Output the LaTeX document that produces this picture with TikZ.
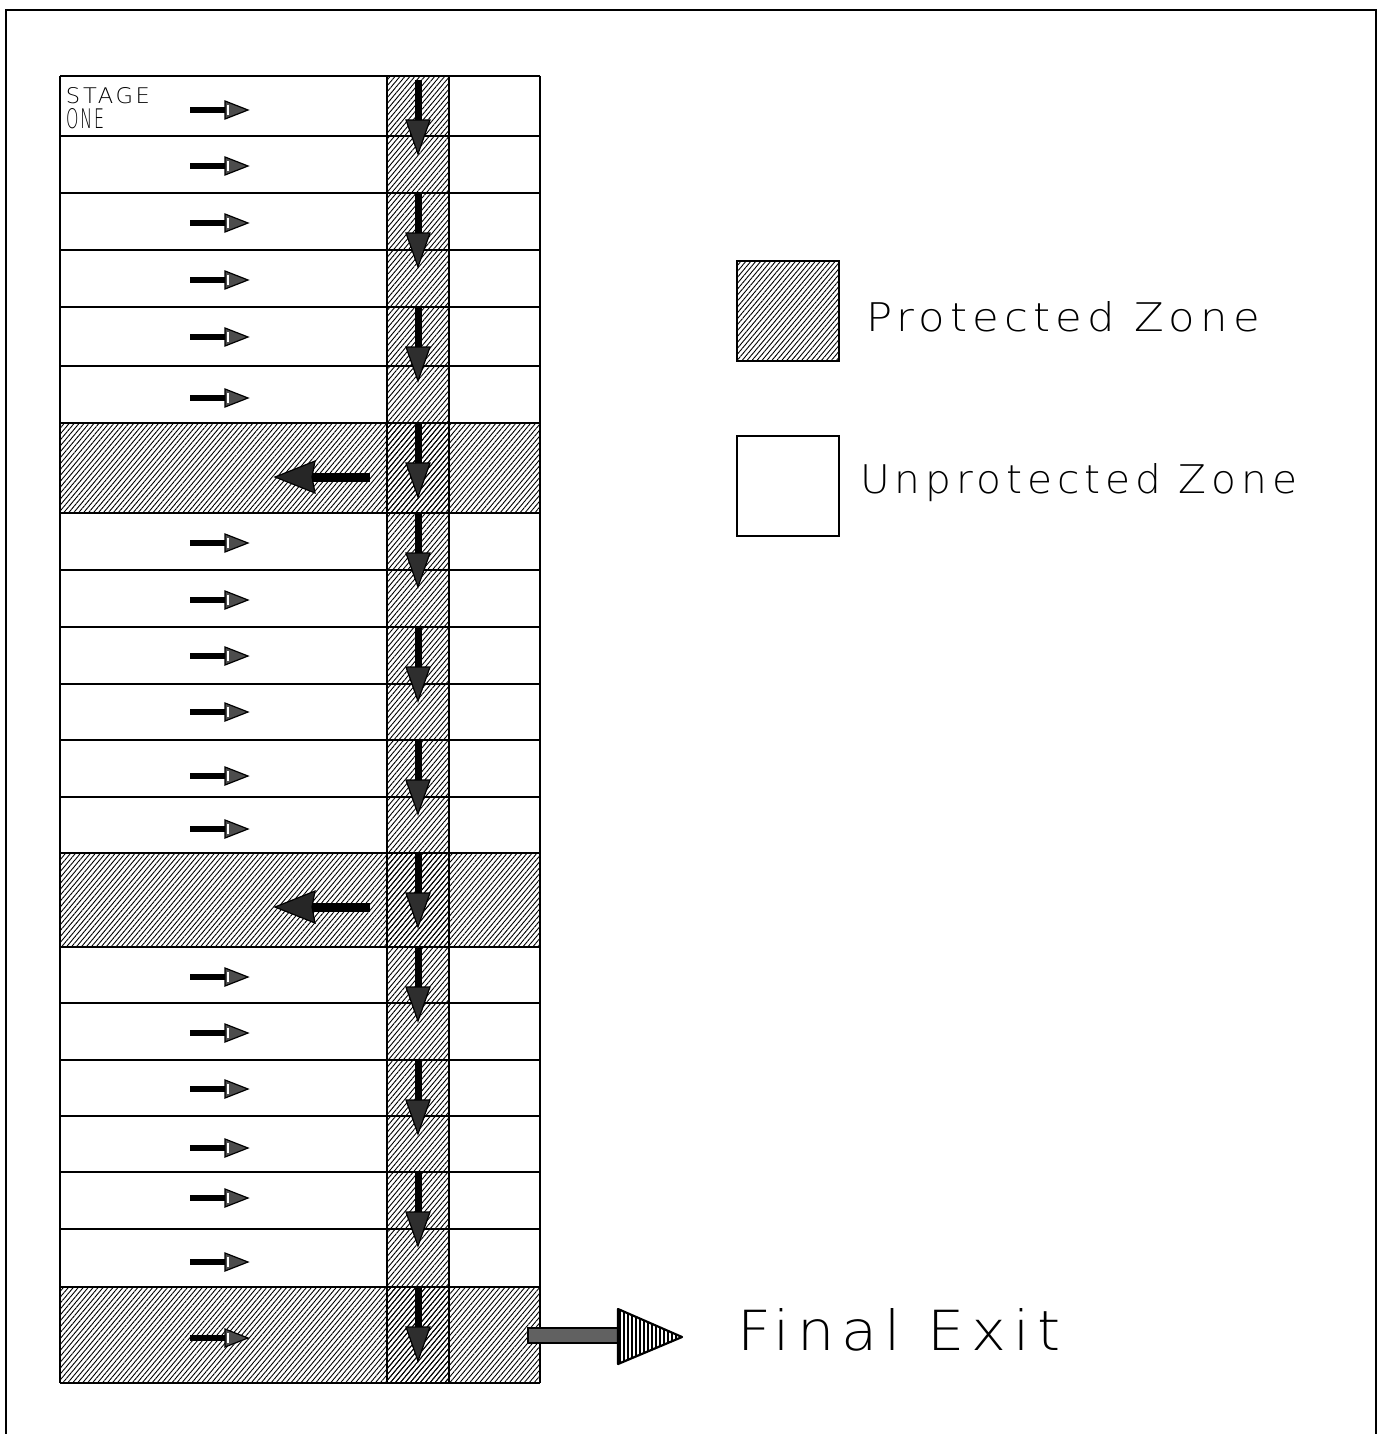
\documentclass[tikz,border=0pt]{standalone}
\usepackage{fontspec}
\usetikzlibrary{patterns.meta}
\newfontfamily\cadfont[LetterSpace=12]{DejaVu Sans ExtraLight}

\tikzset{
  x=0.5pt, y=-0.5pt,
  grid/.style={line width=0.55pt, draw=black},
  hatch/.style={pattern={Lines[angle=50,distance=1.9pt,line width=0.45pt]}},
  txt/.style={anchor=base west, inner sep=0pt, outer sep=0pt},
  pics/rarrow/.style={code={
    \fill (0,-3) rectangle (36,3);
    \filldraw[fill=black!70, draw=black, line width=0.6pt] (35,-9) -- (58,0) -- (35,9) -- cycle;
    \draw[white, line width=0.6pt] (38,-5) -- (38,5);
  }},
  pics/darrow/.style={code={
    \fill (-3.5,0) rectangle (3.5,42);
    \filldraw[fill=black!82, draw=black, line width=0.6pt] (-12,40) -- (0,74) -- (12,40) -- cycle;
  }},
  pics/larrow/.style={code={
    \fill (36,-4.5) rectangle (95,4.5);
    \filldraw[fill=black!85, draw=black, line width=0.6pt] (0,0) -- (40,-16) -- (37,0) -- (40,16) -- cycle;
  }}
}

\begin{document}
\begin{tikzpicture}
\useasboundingbox (0,0) rectangle (1381,1434);

% outer frame
\draw[line width=0.8pt] (6,1434) -- (6,10) -- (1376,10) -- (1376,1434);

% protected bands and the protected column
\foreach \ya/\yb in {423/513, 853/947, 1287/1383}
  \fill[hatch] (60,\ya) rectangle (540,\yb);
\fill[hatch] (387,76) rectangle (449,1383);

% grid of zones
\foreach \yy in {76,136,193,250,307,366,423,513,570,627,684,740,797,853,947,1003,1060,1116,1172,1229,1287,1383}
  \draw[grid] (60,\yy) -- (540,\yy);
\draw[grid] (60,76) -- (60,1383);
\draw[grid] (540,76) -- (540,1383);
\draw[grid] (387,76) -- (387,1383);
\draw[grid] (449,76) -- (449,1383);

% stage label
\node[txt] (stage) at (66,104) {\resizebox{42pt}{8pt}{\cadfont STAGE}};
\node[txt] (one) at (66,128) {\resizebox{19pt}{10pt}{\cadfont ONE}};

% flow within each zone
\foreach \yy in {110,166,223,280,337,398,543,600,656,712,776,829,977,1033,1089,1148,1198,1262,1338}
  \pic at (190,\yy) {rarrow};

% flow down the protected column
\foreach \yy in {80,193,307,423,513,627,740,853,947,1060,1172,1287}
  \pic at (418,\yy) {darrow};

% flow back into the protected bands
\pic at (275,477) {larrow};
\pic at (275,907) {larrow};

% final exit arrow
\filldraw[fill=black!62, draw=black, line width=0.8pt] (528,1328) rectangle (618,1343);
\path[pattern={Lines[angle=90,distance=2pt,line width=0.6pt]}] (618,1309) -- (682,1337) -- (618,1364) -- cycle;
\draw[line width=1.1pt, line join=round] (618,1309) -- (682,1337) -- (618,1364) -- cycle;
\node[txt] (exit) at (737,1350) {\resizebox{161.5pt}{21pt}{\cadfont Final Exit}};

% legend
\filldraw[hatch, draw=black, line width=0.6pt] (737,261) rectangle (839,361);
\draw[line width=0.6pt] (737,436) rectangle (839,536);
\node[txt] (prot) at (866,331) {\resizebox{197pt}{15pt}{\cadfont Protected Zone}};
\node[txt] (unprot) at (860,493) {\resizebox{218.5pt}{15pt}{\cadfont Unprotected Zone}};
\end{tikzpicture}
\end{document}
